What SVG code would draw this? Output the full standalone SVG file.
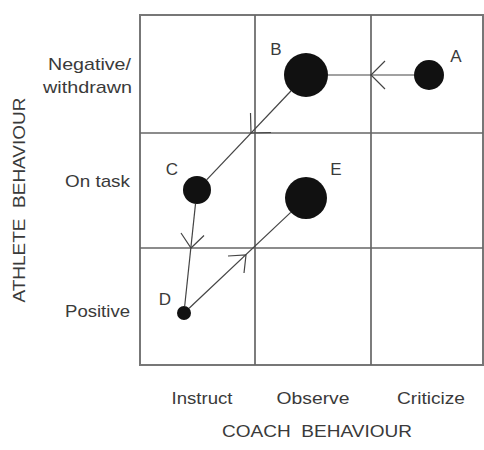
<svg xmlns="http://www.w3.org/2000/svg" width="484" height="450" viewBox="0 0 484 450">
<style>
.grid{stroke:#666;stroke-width:1.7;fill:none}
.frame{stroke:#777;stroke-width:2;fill:none}
.lab{font-family:"Liberation Sans",Arial,sans-serif;font-size:17px;fill:#3a3a3a}
.dot{fill:#111}
.con{stroke:#444;stroke-width:1.2;fill:none}
</style>
<rect width="484" height="450" fill="#fff"/>
<g id="grid">
<rect class="frame" x="140" y="15" width="343" height="350"/>
<line class="grid" x1="255" y1="15" x2="255" y2="365"/>
<line class="grid" x1="371" y1="15" x2="371" y2="365"/>
<line class="grid" x1="140" y1="133" x2="483" y2="133"/>
<line class="grid" x1="140" y1="248" x2="483" y2="248"/>
</g>
<g id="axis-labels">
<text class="lab" x="131" y="70" text-anchor="end" textLength="83" lengthAdjust="spacingAndGlyphs">Negative/</text>
<text class="lab" x="132" y="93" text-anchor="end" textLength="89" lengthAdjust="spacingAndGlyphs">withdrawn</text>
<text class="lab" x="130" y="187" text-anchor="end" textLength="65" lengthAdjust="spacingAndGlyphs">On task</text>
<text class="lab" x="130" y="317" text-anchor="end" textLength="65" lengthAdjust="spacingAndGlyphs">Positive</text>
<text class="lab" x="202" y="404" text-anchor="middle" textLength="61" lengthAdjust="spacingAndGlyphs">Instruct</text>
<text class="lab" x="313" y="404" text-anchor="middle" textLength="73" lengthAdjust="spacingAndGlyphs">Observe</text>
<text class="lab" x="431" y="404" text-anchor="middle" textLength="68" lengthAdjust="spacingAndGlyphs">Criticize</text>
<text class="lab" x="317" y="437" text-anchor="middle" textLength="190" lengthAdjust="spacingAndGlyphs" xml:space="preserve">COACH  BEHAVIOUR</text>
<text class="lab" transform="translate(25,200) rotate(-90)" x="0" y="0" text-anchor="middle" textLength="205" lengthAdjust="spacingAndGlyphs" xml:space="preserve">ATHLETE  BEHAVIOUR</text>
</g>
<g id="connectors">
<line class="con" x1="414" y1="75" x2="328" y2="75"/>
<polyline class="con" points="385,61 371,75 385,89"/>
<line class="con" x1="290.9" y1="91" x2="206.6" y2="179.8"/>
<polyline class="con" points="250.5,113 251,133 271,132.5"/>
<line class="con" x1="195.5" y1="203.9" x2="184.7" y2="306"/>
<polyline class="con" points="181,233 191,248 204,235.5"/>
<line class="con" x1="189.1" y1="308.2" x2="290.7" y2="212.4"/>
<polyline class="con" points="228,256 246,255 244,273"/>
</g>
<g id="node-A"><circle class="dot" cx="429" cy="75" r="15"/><text class="lab" x="456" y="62" text-anchor="middle">A</text></g>
<g id="node-B"><circle class="dot" cx="306" cy="75" r="22"/><text class="lab" x="276" y="55" text-anchor="middle">B</text></g>
<g id="node-C"><circle class="dot" cx="197" cy="190" r="14"/><text class="lab" x="172" y="175" text-anchor="middle">C</text></g>
<g id="node-D"><circle class="dot" cx="184" cy="313" r="7"/><text class="lab" x="165" y="305" text-anchor="middle">D</text></g>
<g id="node-E"><circle class="dot" cx="306" cy="198" r="21"/><text class="lab" x="336" y="175" text-anchor="middle">E</text></g>
</svg>
